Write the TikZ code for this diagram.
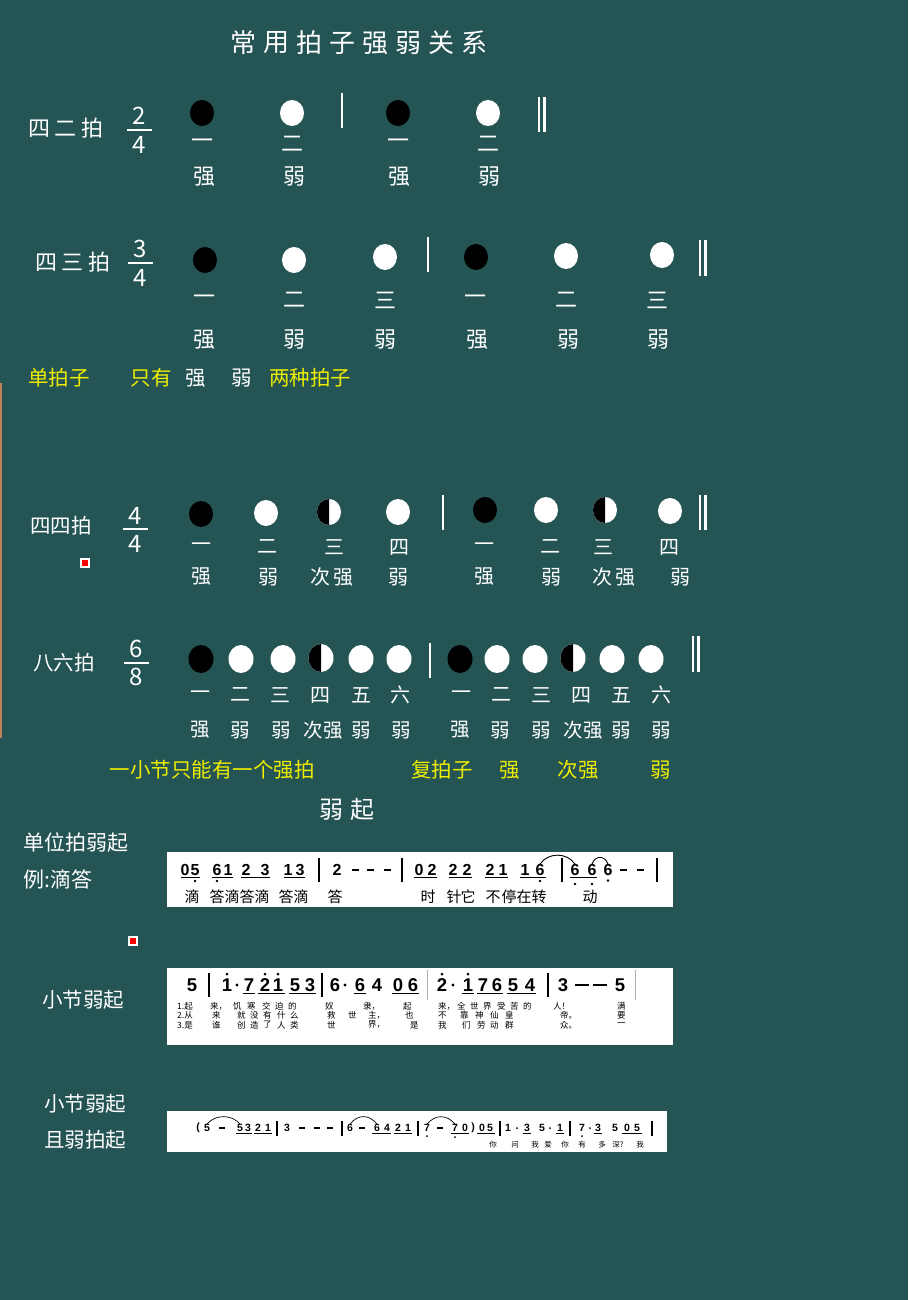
\documentclass[tikz,border=0pt]{standalone}
\usepackage{fontspec}
\setmainfont{Noto Sans CJK SC}
\newfontfamily\jpfont{Liberation Sans}
\definecolor{board}{RGB}{36,84,84}
\definecolor{chalkyellow}{RGB}{238,238,0}
\definecolor{edgebrown}{RGB}{190,130,90}
\definecolor{bargray}{RGB}{175,175,175}
\tikzset{
  chalk/.style={text=white, inner sep=0pt},
  titlechar/.style={chalk, font=\fontsize{26}{26}\selectfont},
  rowname/.style={chalk, font=\fontsize{22}{22}\selectfont},
  fracnum/.style={chalk, font=\fontsize{24}{24}\selectfont},
  beatnum/.style={chalk, font=\fontsize{22}{22}\selectfont},
  beatword/.style={chalk, font=\fontsize{22}{22}\selectfont},
  smallword/.style={chalk, font=\fontsize{19.5}{19.5}\selectfont},
  hint/.style={text=chalkyellow, inner sep=0pt, font=\fontsize{20.5}{20.5}\selectfont},
  fracbar/.style={white, line width=1.5pt},
  barline/.style={white, line width=1.6pt},
  reddot/.style={fill=red, draw=white, line width=1.3pt, minimum size=8pt, inner sep=0pt},
  jp/.style={text=black, inner sep=0pt, font=\jpfont\bfseries\fontsize{16}{16}\selectfont},
  jpbig/.style={jp, font=\jpfont\bfseries\fontsize{18.5}{18.5}\selectfont},
  jptiny/.style={jp, font=\jpfont\bfseries\fontsize{10.5}{10.5}\selectfont},
  lyric/.style={text=black, inner sep=0pt, font=\fontsize{15}{15}\selectfont},
  lyricsmall/.style={text=black, inner sep=0pt, anchor=west, font=\fontsize{8.5}{8.5}\selectfont},
  lyrictiny/.style={text=black, inner sep=0pt, font=\fontsize{7.5}{7.5}\selectfont},
  jpline/.style={black, line width=1.2pt},
  tie/.style={black, line width=0.9pt}
}
\begin{document}
\begin{tikzpicture}[x=1pt,y=-1pt]
\fill[board] (0,0) rectangle (908,1300);
\useasboundingbox (0,0) rectangle (908,1300);
\draw[edgebrown, line width=1.5pt] (0.8,383) -- (0.8,738);

% title
\foreach \c [count=\i] in {常,用,拍,子,强,弱,关,系}
  \node[titlechar] (title-\i) at ({243.5+(\i-1)*33},43) {\c};

% 2/4
\node[rowname] (meter-a) at (66,128) {四\hspace{5pt}二\hspace{5pt}拍};
\node[fracnum] (top-a) at (139,116) {2};
\node[fracnum] (bot-a) at (139,145) {4};
\draw[fracbar] (127,130) -- (152,130);
\foreach \x in {202,398} \fill[black] (\x,113) ellipse (12 and 13);
\foreach \x in {292,488} \fill[white] (\x,113) ellipse (12 and 13);
\draw[barline] (342,93) -- (342,128);
\draw[barline] (539,97) -- (539,132);
\draw[barline, line width=2.4pt] (544.5,97) -- (544.5,132);
\foreach \x/\t [count=\i] in {202/一,292/二,398/一,488/二}
  \node[beatnum] (a-num-\i) at (\x,144) {\t};
\foreach \x/\t [count=\i] in {204/强,294/弱,399/强,489/弱}
  \node[beatword] (a-word-\i) at (\x,177) {\t};

% 3/4
\node[rowname] (meter-b) at (73,262) {四\hspace{5pt}三\hspace{5pt}拍};
\node[fracnum] (top-b) at (140,249) {3};
\node[fracnum] (bot-b) at (140,278) {4};
\draw[fracbar] (128,263) -- (153,263);
\foreach \x/\y in {205/260,476/257} \fill[black] (\x,\y) ellipse (12 and 13);
\foreach \x/\y in {294/260,385/257,566/256,662/255} \fill[white] (\x,\y) ellipse (12 and 13);
\draw[barline] (428,237) -- (428,272);
\draw[barline] (700,240) -- (700,276);
\draw[barline, line width=2.4pt] (705.5,240) -- (705.5,276);
\foreach \x/\t [count=\i] in {204/一,294/二,385/三,475/一,566/二,657/三}
  \node[beatnum] (b-num-\i) at (\x,300) {\t};
\foreach \x/\t [count=\i] in {204/强,294/弱,385/弱,477/强,568/弱,658/弱}
  \node[beatword] (b-word-\i) at (\x,340) {\t};

\node[hint] (single-a) at (59,378) {单拍子};
\node[hint] (single-b) at (151,378) {只有};
\node[hint, text=white] (single-c) at (196,378) {强};
\node[hint, text=white] (single-d) at (242,378) {弱};
\node[hint] (single-e) at (310,378) {两种拍子};

% 4/4
\node[rowname, font=\fontsize{20.5}{20.5}\selectfont] (meter-c) at (61,526) {四四拍};
\node[fracnum] (top-c) at (135,516) {4};
\node[fracnum] (bot-c) at (135,544) {4};
\draw[fracbar] (123,529) -- (148,529);
\node[reddot] (mark-a) at (85,563) {};
\foreach \x/\y in {201/514,485/510} \fill[black] (\x,\y) ellipse (12 and 13);
\foreach \x/\y in {266/513,398/512,546/510,670/511} \fill[white] (\x,\y) ellipse (12 and 13);
\foreach \x/\y in {329/512,605/510} {
  \fill[white] (\x,\y) ellipse (12 and 13);
  \fill[black] (\x,\y) ++(0,13) arc[start angle=90, end angle=270, x radius=12, y radius=13] -- cycle;
}
\draw[barline] (443,495) -- (443,530);
\draw[barline] (700,495) -- (700,530);
\draw[barline, line width=2.4pt] (705.5,495) -- (705.5,530);
\foreach \x/\t [count=\i] in {201/一,267/二,334/三,399/四,484/一,550/二,603/三,669/四}
  \node[beatnum, font=\fontsize{20}{20}\selectfont] (c-num-\i) at (\x,547) {\t};
\foreach \x/\t [count=\i] in {201/强,268/弱,332/次\hspace{3pt}强,398/弱,484/强,551/弱,614/次\hspace{3pt}强,680/弱}
  \node[beatword, font=\fontsize{20}{20}\selectfont] (c-word-\i) at (\x,577) {\t};

% 6/8
\node[rowname, font=\fontsize{20.5}{20.5}\selectfont] (meter-d) at (64,663) {八六拍};
\node[fracnum] (top-d) at (136,649) {6};
\node[fracnum] (bot-d) at (136,677) {8};
\draw[fracbar] (124,663) -- (149,663);
\foreach \x in {201,460} \fill[black] (\x,659) ellipse (12.5 and 14);
\foreach \x in {241,283,361,399,497,535,612,651} \fill[white] (\x,659) ellipse (12.5 and 14);
\foreach \x in {321,573} {
  \fill[white] (\x,658) ellipse (12.5 and 14);
  \fill[black] (\x,658) ++(0,14) arc[start angle=90, end angle=270, x radius=12.5, y radius=14] -- cycle;
}
\draw[barline] (430,643) -- (430,678);
\draw[barline] (693,636) -- (693,672);
\draw[barline, line width=2.4pt] (698.5,636) -- (698.5,672);
\foreach \x/\t [count=\i] in {200/一,240/二,280/三,320/四,361/五,400/六,461/一,501/二,541/三,581/四,621/五,661/六}
  \node[beatnum, font=\fontsize{20}{20}\selectfont] (d-num-\i) at (\x,695) {\t};
\foreach \x/\t [count=\i] in {200/强,240/弱,281/弱,323/次强,361/弱,401/弱,460/强,500/弱,541/弱,583/次强,621/弱,661/弱}
  \node[smallword] (d-word-\i) at (\x,730) {\t};

\node[hint] (compound-a) at (212,770) {一小节只能有一个强拍};
\node[hint] (compound-b) at (442,770) {复拍子};
\node[hint] (compound-c) at (510,770) {强};
\node[hint] (compound-d) at (578,770) {次强};
\node[hint] (compound-e) at (661,770) {弱};

% upbeats
\node[chalk, font=\fontsize{24}{24}\selectfont] (upbeat) at (347,809) {弱\hspace{8pt}起};
\node[rowname, font=\fontsize{21}{21}\selectfont] (upbeat-a) at (76,843) {单位拍弱起};
\node[rowname, font=\fontsize{21}{21}\selectfont, anchor=west] (upbeat-b) at (23,879) {例:滴答};
\node[reddot] (mark-b) at (133,941) {};
\node[rowname, font=\fontsize{20.5}{20.5}\selectfont] (upbeat-c) at (83,1000) {小节弱起};
\node[rowname, font=\fontsize{20.5}{20.5}\selectfont] (upbeat-d) at (85,1104) {小节弱起};
\node[rowname, font=\fontsize{20.5}{20.5}\selectfont] (upbeat-e) at (85,1140) {且弱拍起};

% strip 1
\fill[white] (167,852) rectangle (673,907);
\foreach \x/\d [count=\i] in {185/0,195/5,217/6,228/1,246/2,265/3,288/1,300/3,337/2,419/0,432/2,453/2,467/2,490/2,503/1,525/1,540/6,575/6,592/6,608/6}
  \node[jp] (s1-\i) at (\x,870) {\d};
\foreach \x in {355,370,387,623,640} \draw[jpline, line width=2pt] (\x-3.5,870) -- (\x+3.5,870);
\foreach \x in {319,402,562,657} \draw[jpline] (\x,858) -- (\x,882);
\foreach \a/\b in {181/200,212/233,241/270,284/305,414/437,449/472,485/508,520/546,570/597}
  \draw[jpline] (\a,877.5) -- (\b,877.5);
\foreach \x/\y in {195/881,217/881,540/881,575/884,592/884,608/880.5} \fill (\x,\y) circle (1.4);
\draw[tie] (s1-17.north) .. controls +(8,-12) and +(-8,-12) .. (s1-18.north);
\draw[tie] (s1-19.north) .. controls +(3,-9) and +(-3,-9) .. (s1-20.north);
\foreach \x/\t [count=\i] in {192/滴,217/答,232/滴,247/答,262/滴,286/答,301/滴,335/答,428/时,454/针,468/它,493/不,509/停,524/在,539/转,590/动}
  \node[lyric] (w1-\i) at (\x,897) {\t};

% strip 2
\fill[white] (167,968) rectangle (673,1045);
\foreach \x/\d [count=\i] in {192/5,227/1,249/7,265/2,278/1,295/5,310/3,335/6,360/6,377/4,398/0,413/6,442/2,468/1,483/7,497/6,513/5,530/4,563/3,620/5}
  \node[jpbig] (s2-\i) at (\x,985) {\d};
\foreach \x in {582,600} \draw[jpline, line width=1.8pt] (\x-7,985) -- (\x+7,985);
\foreach \x in {237,345,453} \fill (\x,985) circle (1.6);
\foreach \x in {227,265,278,442,468} \fill (\x,974) circle (1.5);
\foreach \a/\b in {243/255,258/285,289/316,354/366,392/419,462/474,477/503,507/536}
  \draw[jpline, line width=1.3pt] (\a,993.5) -- (\b,993.5);
\foreach \x in {209,322,548} \draw[jpline, line width=1.3pt] (\x,973) -- (\x,997);
\foreach \x in {427,635} \draw[bargray, line width=1pt] (\x,970) -- (\x,1000);
\foreach \x/\t [count=\i] in {177/1.起,210/来，,233/饥,247/寒,262/交,275/迫,288/的,325/奴,363/隶，,403/起,438/来，,457/全,470/世,483/界,497/受,510/苦,523/的,553/人！,617/满}
  \node[lyricsmall] (v1-\i) at (\x,1006) {\t};
\foreach \x/\t [count=\i] in {177/2.从,212/来,237/就,250/没,263/有,277/什,290/么,327/救,348/世,368/主，,405/也,438/不,460/靠,475/神,490/仙,505/皇,560/帝。,617/要}
  \node[lyricsmall] (v2-\i) at (\x,1015.5) {\t};
\foreach \x/\t [count=\i] in {177/3.是,212/谁,237/创,250/造,263/了,277/人,290/类,327/世,368/界，,410/是,438/我,462/们,477/劳,490/动,505/群,560/众。,617/一}
  \node[lyricsmall] (v3-\i) at (\x,1025) {\t};

% strip 3
\fill[white] (167,1111) rectangle (667,1152);
\foreach \x/\d [count=\i] in {207/5,240/5,248/3,258/2,268/1,287/3,350/6,377/6,387/4,398/2,408/1,427/7,455/7,465/0,482/0,490/5,508/1,527/3,542/5,560/1,582/7,598/3,615/5,627/0,637/5}
  \node[jptiny] (s3-\i) at (\x,1128) {\d};
\node[jptiny] (s3-open) at (198,1128) {(};
\node[jptiny] (s3-close) at (473,1128) {)};
\foreach \x in {222,302,317,330,362,440} \draw[jpline, line width=1.4pt] (\x-3,1128) -- (\x+3,1128);
\foreach \x in {517,550,590} \fill (\x,1128) circle (1);
\foreach \x/\y in {427/1136,455/1137,582/1136} \fill (\x,\y) circle (1);
\foreach \a/\b in {236/252,254/272,372/391,394/412,451/469,477/495,523/531,556/564,594/602,622/642}
  \draw[jpline, line width=1pt] (\a,1133.5) -- (\b,1133.5);
\foreach \x in {277,342,418,500,570,652} \draw[jpline, line width=1.1pt] (\x,1121) -- (\x,1136);
\draw[tie, line width=0.7pt] (s3-1.north) .. controls +(8,-10) and +(-8,-10) .. (s3-2.north);
\draw[tie, line width=0.7pt] (s3-7.north) .. controls +(8,-10) and +(-8,-10) .. (s3-8.north);
\draw[tie, line width=0.7pt] (s3-12.north) .. controls +(8,-10) and +(-8,-10) .. (s3-13.north);
\foreach \x/\t [count=\i] in {493/你,515/问,535/我,548/爱,565/你,582/有,602/多,618/深?,640/我}
  \node[lyrictiny] (w3-\i) at (\x,1145) {\t};
\end{tikzpicture}
\end{document}
